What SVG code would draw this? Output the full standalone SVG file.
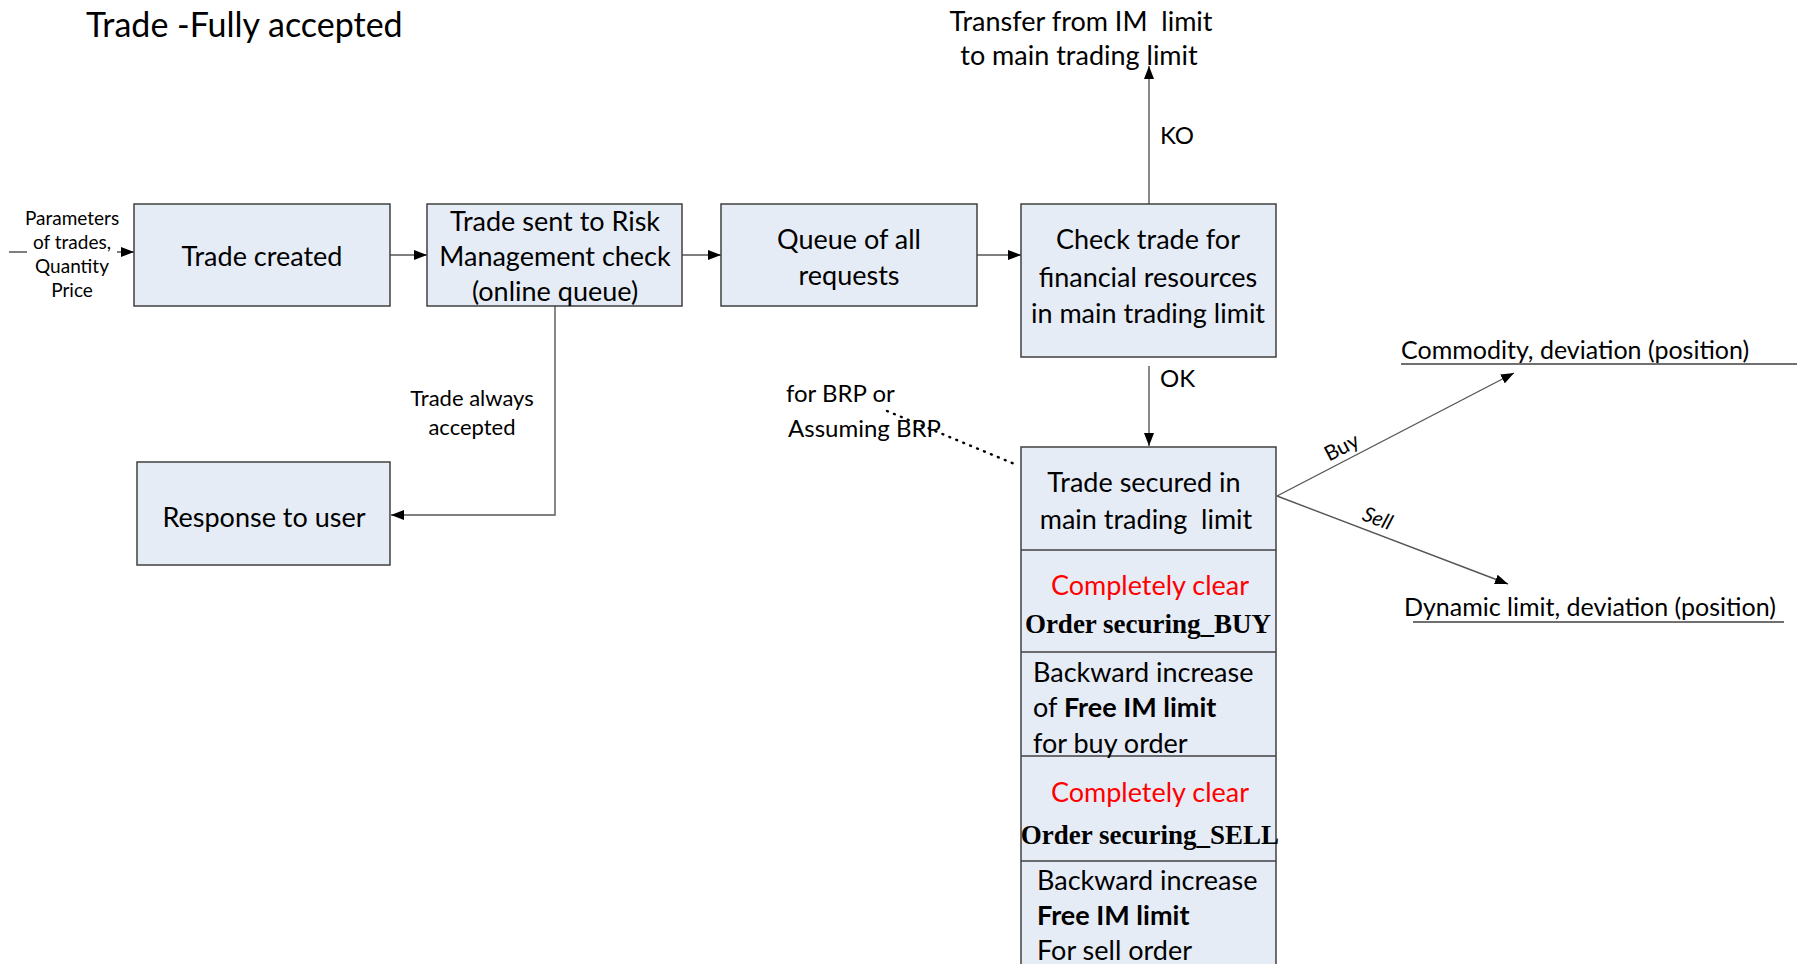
<svg xmlns="http://www.w3.org/2000/svg" width="1801" height="964" viewBox="0 0 1801 964">
  <defs>
    <marker id="arrow" viewBox="0 0 13 10" refX="13" refY="5" markerWidth="13" markerHeight="10" markerUnits="userSpaceOnUse" orient="auto">
      <path d="M0,0 L13,5 L0,10 Z" fill="#000"/>
    </marker>
    <style>
      .box { fill: #E6ECF6; stroke: #404040; stroke-width: 1.5; }
      .div { stroke: #404040; stroke-width: 1.5; }
      .conn { fill: none; stroke: #555; stroke-width: 1.4; }
      .dot { fill: none; stroke: #000; stroke-width: 2.4; stroke-dasharray: 1 6.5; stroke-linecap: round; }
      text { font-family: Lato, "Liberation Sans", sans-serif; fill: #000; dominant-baseline: central; white-space: pre; }
      .t { font-size: 27px; text-anchor: middle; }
      .tl { font-size: 27px; }
      .lbl { font-size: 24px; }
      .sm { font-size: 22px; text-anchor: middle; }
      .xs { font-size: 19px; text-anchor: middle; }
      .red { fill: #FF0000; }
      .ser { font-family: "Liberation Serif", "Times New Roman", serif; font-weight: bold; font-size: 27px; text-anchor: middle; }
      .b { font-weight: bold; }
    </style>
  </defs>

  <rect width="1801" height="964" fill="#fff"/>

  <!-- title -->
  <text x="86" y="23" style="font-size:34px">Trade -Fully accepted</text>

  <!-- connectors -->
  <g id="connectors">
    <line class="conn" x1="9" y1="252" x2="134" y2="252" marker-end="url(#arrow)"/>
    <line class="conn" x1="390" y1="255" x2="427" y2="255" marker-end="url(#arrow)"/>
    <line class="conn" x1="682" y1="255" x2="721" y2="255" marker-end="url(#arrow)"/>
    <line class="conn" x1="977" y1="255" x2="1021" y2="255" marker-end="url(#arrow)"/>
    <polyline class="conn" points="555,306 555,515 391,515" marker-end="url(#arrow)"/>
    <line class="conn" x1="1149" y1="204" x2="1149" y2="66" marker-end="url(#arrow)"/>
    <line class="conn" x1="1149" y1="366" x2="1149" y2="446" marker-end="url(#arrow)"/>
    <line class="conn" x1="1277" y1="496" x2="1514" y2="373" marker-end="url(#arrow)"/>
    <line class="conn" x1="1277" y1="496" x2="1508" y2="584" marker-end="url(#arrow)"/>
    <line class="dot" x1="887" y1="411" x2="1017" y2="465"/>
  </g>

  <!-- input parameters label -->
  <g id="params">
    <rect x="27" y="207" width="90" height="94" fill="#fff"/>
    <text class="xs" x="72" y="217">Parameters</text>
    <text class="xs" x="72" y="241">of trades,</text>
    <text class="xs" x="72" y="265">Quantity</text>
    <text class="xs" x="72" y="289">Price</text>
  </g>

  <g id="trade-created">
    <rect class="box" x="134" y="204" width="256" height="102"/>
    <text class="t" x="262" y="255">Trade created</text>
  </g>

  <g id="risk-check">
    <rect class="box" x="427" y="204" width="255" height="102"/>
    <text class="t" x="555" y="220">Trade sent to Risk</text>
    <text class="t" x="555" y="255">Management check</text>
    <text class="t" x="555" y="290">(online queue)</text>
  </g>

  <g id="queue">
    <rect class="box" x="721" y="204" width="256" height="102"/>
    <text class="t" x="849" y="238">Queue of all</text>
    <text class="t" x="849" y="274">requests</text>
  </g>

  <g id="check-trade">
    <rect class="box" x="1021" y="204" width="255" height="153"/>
    <text class="t" x="1148" y="238">Check trade for</text>
    <text class="t" x="1148" y="276">financial resources</text>
    <text class="t" x="1148" y="312">in main trading limit</text>
  </g>

  <g id="response">
    <rect class="box" x="137" y="462" width="253" height="103"/>
    <text class="t" x="264" y="516">Response to user</text>
  </g>

  <g id="trade-secured">
    <rect class="box" x="1021" y="447" width="255" height="530"/>
    <line class="div" x1="1021" y1="550" x2="1276" y2="550"/>
    <line class="div" x1="1021" y1="652" x2="1276" y2="652"/>
    <line class="div" x1="1021" y1="756" x2="1276" y2="756"/>
    <line class="div" x1="1021" y1="861" x2="1276" y2="861"/>
    <text class="t" x="1144" y="481">Trade secured in</text>
    <text class="t" x="1146" y="518">main trading  limit</text>
    <text class="t red" x="1150" y="584">Completely clear</text>
    <text class="ser" x="1148" y="624">Order securing_BUY</text>
    <text class="tl" x="1033" y="671">Backward increase</text>
    <text class="tl" x="1033" y="706">of <tspan class="b">Free IM limit</tspan></text>
    <text class="tl" x="1033" y="742">for buy order</text>
    <text class="t red" x="1150" y="791">Completely clear</text>
    <text class="ser" x="1150" y="835">Order securing_SELL</text>
    <text class="tl" x="1037" y="879">Backward increase</text>
    <text class="tl b" x="1037" y="914">Free IM limit</text>
    <text class="tl" x="1037" y="949">For sell order</text>
  </g>

  <g id="transfer">
    <text class="t" x="1081" y="20">Transfer from IM  limit</text>
    <text class="t" x="1079" y="54">to main trading limit</text>
  </g>

  <g id="commodity">
    <text class="tl" x="1401" y="349" style="font-size:25px">Commodity, deviation (position)</text>
    <line class="div" x1="1401" y1="364" x2="1797" y2="364"/>
  </g>

  <g id="dynamic-limit">
    <text class="tl" x="1404" y="606" style="font-size:25px">Dynamic limit, deviation (position)</text>
    <line class="div" x1="1413" y1="622" x2="1784" y2="622"/>
  </g>

  <!-- connector labels -->
  <g id="labels">
    <text class="sm" x="472" y="397">Trade always</text>
    <text class="sm" x="472" y="426">accepted</text>
    <text class="lbl" x="1160" y="134">KO</text>
    <text class="lbl" x="1160" y="377">OK</text>
    <text class="lbl" x="786" y="392">for BRP or</text>
    <text class="lbl" x="788" y="427">Assuming BRP</text>
    <text x="1341" y="446" style="font-size:21px;text-anchor:middle" transform="rotate(-27.4 1341 446)">Buy</text>
    <text x="1378" y="517" style="font-size:21px;text-anchor:middle;font-style:italic" transform="rotate(20.7 1378 517)">Sell</text>
  </g>
</svg>
